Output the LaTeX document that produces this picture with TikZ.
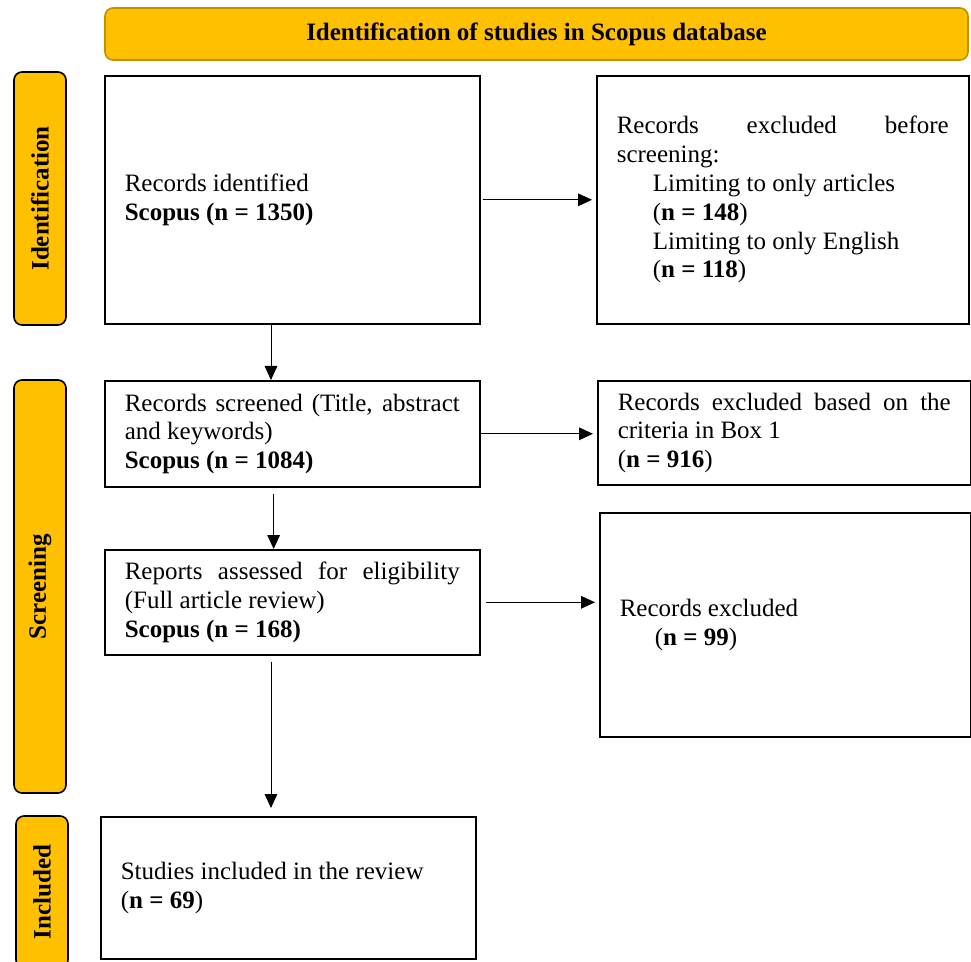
\documentclass[tikz,border=0pt]{standalone}
\usepackage{fontspec}
\setmainfont{Liberation Serif}
\usetikzlibrary{calc, arrows.meta}

\begin{document}
\begin{tikzpicture}[x=0.75pt, y=-0.75pt]
    % Define colours
    \definecolor{borderColour}{HTML}{000000}
    \definecolor{phaseColour}{HTML}{FFC000}
    \definecolor{bannerColour}{HTML}{BF9000}

    % Macro for the text size of every box
    \def\boxFont{\fontsize{18.75}{21.6}\selectfont}

    % Styles of the boxes, the phase bars and the arrows
    \tikzset{
      recordBox/.style={draw=borderColour, line width=1.2pt, fill=white, anchor=north west,
        inner xsep=15pt, align=justify, font=\boxFont},
      phaseBar/.style={draw=borderColour, line width=1.2pt, fill=phaseColour,
        rounded corners=6pt, rotate=90, minimum height=39pt, font=\boxFont\bfseries},
      flowArrow/.style={-{Triangle[length=10.5pt, width=9.5pt]}, line width=0.7pt}
    }

  % Fix the size of the page
  \clip (0,0) rectangle (971,962);

  % Draw the banner and the phase bars
  \node[draw=bannerColour, line width=1.2pt, fill=phaseColour, rounded corners=6pt,
        minimum width=647.25pt, minimum height=39pt, font=\boxFont\bfseries]
        (banner) at (536.5,34) {Identification of studies in Scopus database};
  \node[phaseBar, minimum width=189.75pt] (barIdent) at (40,198.5) {Identification};
  \node[phaseBar, minimum width=309.75pt] (barScreen) at (40,586.5) {Screening};
  \node[phaseBar, minimum width=114pt] (barIncl) at (42,892) {Included};

  % Draw the boxes of the left column
  \node[recordBox, text width=251.25pt, minimum height=186pt] (recIdent) at (104,75)
        {Records identified\\\textbf{Scopus (n = 1350)}};
  \node[recordBox, text width=251.25pt, minimum height=79.5pt] (recScreen) at (104,380)
        {Records screened (Title, abstract\linebreak and keywords)\\\textbf{Scopus (n = 1084)}};
  \node[recordBox, text width=251.25pt, minimum height=78.75pt] (repAssess) at (104,549)
        {Reports assessed for eligibility\linebreak (Full article review)\\\textbf{Scopus (n = 168)}};
  \node[recordBox, text width=251.25pt, minimum height=106.5pt] (studIncl) at (100,816)
        {Studies included in the review\\(\textbf{n = 69})};

  % Draw the boxes of the right column
  \node[recordBox, text width=249pt, minimum height=186pt] (exclBefore) at (596,75)
        {Records excluded before\linebreak screening:\\
         \hspace*{27pt}Limiting to only articles\\
         \hspace*{27pt}(\textbf{n = 148})\\
         \hspace*{27pt}Limiting to only English\\
         \hspace*{27pt}(\textbf{n = 118})};
  \node[recordBox, text width=249.75pt, minimum height=78pt] (exclCrit) at (597,380)
        {Records excluded based on the\linebreak criteria in Box 1\\(\textbf{n = 916})};
  \node[recordBox, text width=248.25pt, minimum height=168pt] (exclFull) at (599,512)
        {Records excluded\\\hspace*{26.25pt}(\textbf{n = 99})};

  % Draw the arrows down the left column
  \draw[flowArrow] ([xshift=-16pt]recIdent.south) -- ([xshift=-16pt]recScreen.north);
  \draw[flowArrow, shorten <=4.5pt] ([xshift=-14pt]recScreen.south) -- ([xshift=-14pt]repAssess.north);
  \draw[flowArrow, shorten <=4.5pt, shorten >=6pt] ([xshift=-16pt]repAssess.south)
        -- ([xshift=-16pt]repAssess.south |- studIncl.north);

  % Draw the arrows to the exclusions
  \draw[flowArrow, shorten <=1.5pt, shorten >=3pt] (recIdent.east) -- (exclBefore.west);
  \draw[flowArrow, shorten >=3pt] (recScreen.east) -- (recScreen.east -| exclCrit.west);
  \draw[flowArrow, shorten <=4pt, shorten >=3pt] (repAssess.east) -- (repAssess.east -| exclFull.west);

\end{tikzpicture}
\end{document}
